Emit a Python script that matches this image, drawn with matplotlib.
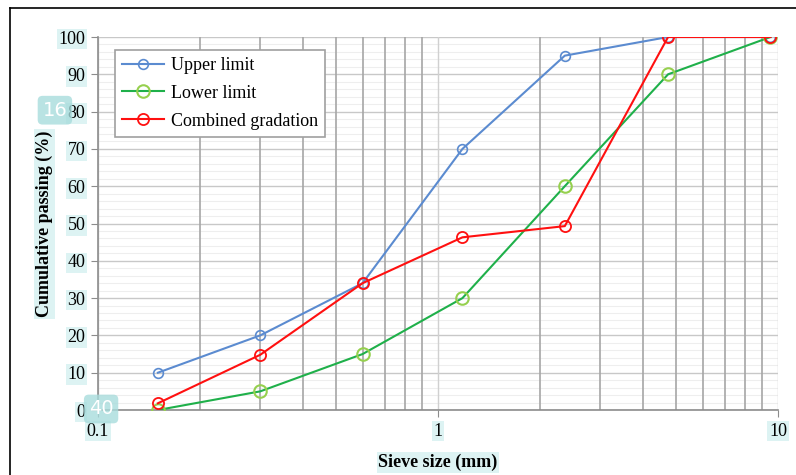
import numpy as np
import matplotlib.pyplot as plt
from matplotlib.ticker import FixedLocator, NullFormatter, MultipleLocator

sieve = [0.15, 0.3, 0.6, 1.18, 2.36, 4.75, 9.5]
upper = [10, 20, 34, 70, 95, 100, 100]
lower = [0, 5, 15, 30, 60, 90, 100]
combined = [1.8, 14.8, 34, 46.3, 49.3, 100, 100]

plt.rcParams['font.family'] = ['Liberation Serif', 'DejaVu Serif']
hl = dict(boxstyle='square,pad=0.1', fc='#ddf3f3', ec='none')

fig = plt.figure(figsize=(7.96, 4.75), dpi=100)
ax = fig.add_axes([0.1231, 0.1368, 0.8543, 0.7853])

# frame lines around the figure (left and top visible)
fig.add_artist(plt.Line2D([0.0126, 0.0126], [0, 0.983], color='black', lw=1.2))
fig.add_artist(plt.Line2D([0.0126, 1], [0.983, 0.983], color='black', lw=1.2))

ax.plot(sieve, upper, color='#5b8bd0', lw=1.5, marker='o', ms=7, mfc='none',
        mec='#5b8bd0', mew=1.2, label='Upper limit', zorder=3)
ax.plot(sieve, lower, color='#1fb04a', lw=1.5, marker='o', ms=9, mfc='none',
        mec='#96d04e', mew=1.5, label='Lower limit', zorder=3)
ax.plot(sieve, combined, color='#ff1010', lw=1.5, marker='o', ms=8, mfc='none',
        mec='#ff1010', mew=1.3, label='Combined gradation', zorder=4)

ax.set_xscale('log')
ax.set_xlim(0.1, 10)
ax.set_ylim(0, 100)
ax.xaxis.set_major_locator(FixedLocator([0.1, 1, 10]))
ax.set_xticklabels(['0.1', '1', '10'])
minors = [m * d for d in (0.1, 1) for m in range(2, 10)]
ax.xaxis.set_minor_locator(FixedLocator(minors))
ax.xaxis.set_minor_formatter(NullFormatter())
ax.yaxis.set_major_locator(MultipleLocator(10))
ax.yaxis.set_minor_locator(MultipleLocator(2))

ax.grid(which='major', axis='x', color='#d0d0d0', lw=1.0)
ax.grid(which='minor', axis='x', color='#a6a6a6', lw=1.2)
ax.grid(which='major', axis='y', color='#c8c8c8', lw=1.0)
ax.grid(which='minor', axis='y', color='#eeeeee', lw=0.8)
ax.set_axisbelow(True)
ax.yaxis.set_zorder(0.4)  # horizontal grid under vertical grid

for s in ('top', 'right'):
    ax.spines[s].set_visible(False)
for s in ('left', 'bottom'):
    ax.spines[s].set_color('#8c8c8c')
    ax.spines[s].set_linewidth(1.2)

ax.tick_params(which='major', direction='out', length=5, color='#8c8c8c',
               labelsize=13, pad=4)
ax.tick_params(which='minor', length=0)
for t in ax.get_xticklabels() + ax.get_yticklabels():
    t.set_bbox(hl)

ax.set_xlabel('Sieve size (mm)', fontsize=13, fontweight='bold', labelpad=10, bbox=hl)
ax.set_ylabel('Cumulative passing (%)', fontsize=13, fontweight='bold', labelpad=4, bbox=hl)

leg = ax.legend(loc='upper left', bbox_to_anchor=(0.012, 0.99), fontsize=13,
                frameon=True, fancybox=False, edgecolor='#a0a0a0', framealpha=1,
                handlelength=2.3, handletextpad=0.4, borderpad=0.4, labelspacing=0.6)
leg.get_frame().set_linewidth(1.2)

# overlay badges
fig.text(0.069, 0.768, '16', fontsize=14, color='white', ha='center', va='center',
         family='DejaVu Sans',
         bbox=dict(boxstyle='round,pad=0.25', fc='#a8dcdc', ec='none', alpha=0.8))
fig.text(0.127, 0.139, '40', fontsize=14, color='white', ha='center', va='center',
         family='DejaVu Sans',
         bbox=dict(boxstyle='round,pad=0.25', fc='#a8dcdc', ec='none', alpha=0.8))

fig.savefig('out.png', dpi=100)
